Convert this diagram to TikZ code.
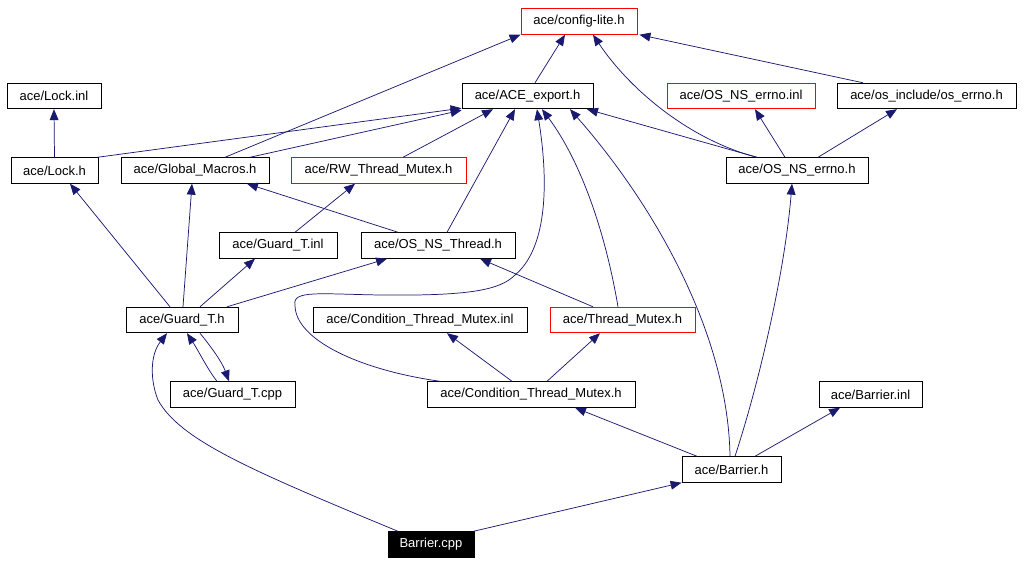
\documentclass[tikz,border=0pt]{standalone}
\usepackage{fontspec}
\setmainfont{Liberation Sans}
\usetikzlibrary{arrows.meta,calc}
\definecolor{DoxyEdgeColor}{RGB}{25,25,112}
\definecolor{DoxyRedColor}{RGB}{255,0,0}

\begin{document}
\begin{tikzpicture}[x=0.75pt,y=-0.75pt,hdr/.style 2 args={draw=#1,line width=0.7pt,rectangle,minimum width=#2*0.75pt,minimum height=25.5*0.75pt,inner sep=0pt,font=\fontsize{9.75}{11}\selectfont},dep/.style={DoxyEdgeColor,line width=0.55pt,-{Triangle[length=8.2pt,width=6.6pt]}}]
\useasboundingbox (0,0) rectangle (1024,564);
% header boxes
   \node[hdr={DoxyRedColor}{116}](cfg) at(579,21.5) {ace/config-lite.h};
   \node[hdr={black}{94}](lockinl) at(54,96) {ace/Lock.inl};
   \node[hdr={black}{131}](aceexp) at(527.5,96) {ace/ACE\_export.h};
   \node[hdr={DoxyRedColor}{148}](errnoinl) at(741,96) {ace/OS\_NS\_errno.inl};
   \node[hdr={black}{179}](oserrno) at(926.5,96) {ace/os\_include/os\_errno.h};
   \node[hdr={black}{87}](lockh) at(54.5,170.5) {ace/Lock.h};
   \node[hdr={black}{148}](glob) at(195,170.5) {ace/Global\_Macros.h};
   \node[hdr={DoxyRedColor}{175}](rw) at(378.5,170.5) {ace/RW\_Thread\_Mutex.h};
   \node[hdr={black}{142}](errnoh) at(797,170.5) {ace/OS\_NS\_errno.h};
   \node[hdr={black}{118}](guardinl) at(278,245.5) {ace/Guard\_T.inl};
   \node[hdr={black}{154}](osthr) at(438,245.5) {ace/OS\_NS\_Thread.h};
   \node[hdr={black}{112}](guardh) at(182,320) {ace/Guard\_T.h};
   \node[hdr={black}{214}](condinl) at(420,320) {ace/Condition\_Thread\_Mutex.inl};
   \node[hdr={DoxyRedColor}{145}](thrmtx) at(622.5,320) {ace/Thread\_Mutex.h};
   \node[hdr={black}{125}](guardcpp) at(232.5,394.5) {ace/Guard\_T.cpp};
   \node[hdr={black}{208}](condh) at(531,394.5) {ace/Condition\_Thread\_Mutex.h};
   \node[hdr={black}{103}](barinl) at(870.5,394.5) {ace/Barrier.inl};
   \node[hdr={black}{99}](barh) at(731.5,469.5) {ace/Barrier.h};
   \node[hdr={black}{86},fill=black,text=white](barcpp) at(431,544.5) {Barrier.cpp};
% include edges
\draw[dep] ($(aceexp.north)+(7.5,0)$) -- ($(cfg.south)+(-14,0)$);
\draw[dep] ($(glob.north)+(30,0)$) -- (cfg.south west);
\draw[dep] ($(errnoh.north)+(-40,0)$) .. controls (690,140) and (630,90) .. ($(cfg.south)+(14,0)$);
\draw[dep] ($(oserrno.north)+(-63.5,0)$) -- ($(cfg.south east)+(2,0)$);
\draw[dep] (lockh.north) -- (lockinl.south);
\draw[dep] ($(lockh.north east)+(-1,0)$) -- ($(aceexp.south west)+(0,-1)$);
\draw[dep] ($(glob.north)+(55,0)$) -- ($(aceexp.south west)+(0,1)$);
\draw[dep] ($(rw.north)+(24.5,0)$) -- ($(aceexp.south)+(-34.5,0)$);
\draw[dep] ($(osthr.north)+(9,0)$) -- ($(aceexp.south)+(-12.5,0)$);
\draw[dep] ($(condh.north)+(-91,0)$) .. controls (360,370) and (295,340) .. (295,305)
   .. controls (292,290) and (320,294) .. (380,295)
   .. controls (470,296) and (500,290) .. (515,275)
   .. controls (545,250) and (550,190) .. ($(aceexp.south)+(9.5,0)$);
\draw[dep] ($(thrmtx.north)+(-4.5,0)$) .. controls (605,230) and (580,160) .. ($(aceexp.south)+(14.5,0)$);
\draw[dep] ($(barh.north)+(-1.5,0)$) .. controls (728,330) and (650,200) .. ($(aceexp.south)+(42.5,0)$);
\draw[dep] ($(barh.north)+(3.5,0)$) .. controls (760,380) and (785,270) .. ($(errnoh.south)+(-5,0)$);
\draw[dep] ($(errnoh.north)+(-40,0)$) -- ($(aceexp.south)+(59.5,0)$);
\draw[dep] ($(errnoh.north)+(-12,0)$) -- ($(errnoinl.south)+(14,0)$);
\draw[dep] ($(errnoh.north)+(21,0)$) -- ($(oserrno.south)+(-29.5,0)$);
\draw[dep] ($(osthr.north)+(-40,0)$) -- ($(glob.south)+(52,0)$);
\draw[dep] ($(guardinl.north)+(17,0)$) -- ($(rw.south)+(-23.5,0)$);
\draw[dep] ($(guardh.north)+(-12,0)$) -- ($(lockh.south)+(15.5,0)$);
\draw[dep] ($(guardh.north)+(1,0)$) -- ($(glob.south)+(-3,0)$);
\draw[dep] ($(guardh.north)+(18,0)$) -- ($(guardinl.south)+(-23,0)$);
\draw[dep] ($(guardh.north)+(45,0)$) -- ($(osthr.south)+(-51,0)$);
\draw[dep] ($(thrmtx.north)+(-29.5,0)$) -- ($(osthr.south)+(42,0)$);
\draw[dep] ($(guardcpp.north)+(-15.5,0)$) .. controls (208,370) and (198,350) .. ($(guardh.south)+(5,0)$);
\draw[dep] ($(guardh.south)+(18,0)$) .. controls (212,348) and (222,362) .. ($(guardcpp.north)+(-3.5,0)$);
\draw[dep] ($(barcpp.north)+(-33,0)$) .. controls (250,470) and (180,440) .. (158,400)
   .. controls (150,380) and (150,355) .. ($(guardh.south)+(-15,0)$);
\draw[dep] ($(barcpp.north east)+(-1,0)$) -- (barh.south west);
\draw[dep] ($(condh.north)+(-19,0)$) -- ($(condinl.south)+(27,0)$);
\draw[dep] ($(condh.north)+(16,0)$) -- ($(thrmtx.south)+(-22.5,0)$);
\draw[dep] ($(barh.north)+(-34.5,0)$) -- ($(condh.south)+(44,0)$);
\draw[dep] ($(barh.north)+(23.5,0)$) -- ($(barinl.south)+(-30.5,0)$);
\end{tikzpicture}
\end{document}
